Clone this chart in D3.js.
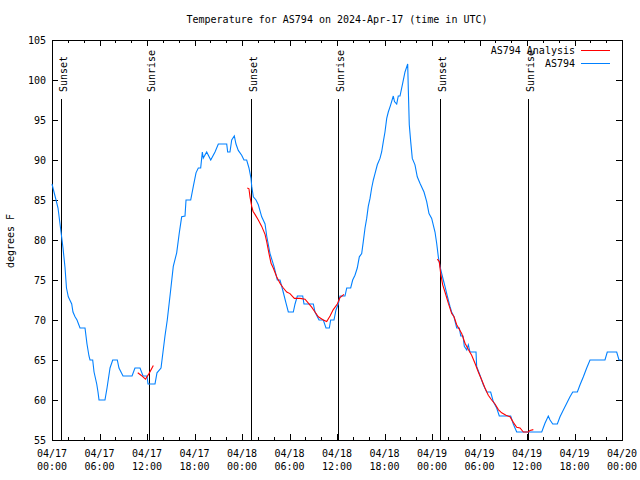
<!DOCTYPE html>
<html><head><meta charset="utf-8">
<script src="https://cdn.jsdelivr.net/npm/d3@7"></script>
<style>
html,body{margin:0;padding:0;background:#fff;}
text{font-family:"DejaVu Sans Mono","Liberation Mono",monospace;font-size:10px;fill:#000;}
</style></head>
<body>
<svg id="c" width="640" height="480"></svg>
<script>
// ---- data (hours since 2024-04-17 00:00 UTC, temperature in degrees F) ----
const titleText = "Temperature for AS794 on 2024-Apr-17 (time in UTC)";
const yLabel = "degrees F";
const yTicks = [55,60,65,70,75,80,85,90,95,100,105];
const seriesNames = ["AS794 Analysis","AS794"];

const obsHours = [0,0.25,0.51,0.76,1.14,1.39,1.64,1.83,2.06,2.49,2.65,2.91,3.16,3.54,4.17,4.42,4.67,4.80,5.14,5.31,5.65,5.81,5.94,6.69,6.95,7.33,7.67,8.25,8.46,8.97,10.11,10.48,11.12,11.50,12.00,12.13,13.01,13.26,13.77,14.02,14.27,14.56,14.99,15.32,15.75,16.08,16.38,16.80,16.93,17.52,17.85,18.19,18.48,18.78,18.99,19.11,19.54,20.05,20.59,21.01,22.07,22.19,22.48,22.70,23.03,23.24,23.53,23.96,24.25,24.59,24.88,25.14,25.23,25.43,25.77,26.06,26.49,26.91,27.12,27.54,28.04,28.46,28.80,29.14,29.56,29.85,30.48,30.70,30.99,31.67,31.83,33.01,33.22,33.73,34.27,34.61,35.03,35.20,35.62,35.87,36.16,36.38,37.01,37.23,37.73,37.98,38.27,38.56,38.82,39.12,39.32,39.54,39.75,39.95,40.17,40.38,40.59,40.80,41.09,41.43,41.64,41.85,42.06,42.28,42.48,42.78,43.11,43.26,43.54,43.74,43.96,44.30,44.59,44.93,45.01,45.13,45.31,45.51,45.85,46.14,46.48,46.99,47.33,47.62,47.96,48.38,48.59,48.80,49.01,49.23,49.43,49.64,49.93,50.27,50.48,50.78,51.12,51.45,51.63,51.92,52.08,52.39,52.59,52.80,53.56,53.64,54.06,54.48,54.91,55.41,55.74,56.17,56.50,57.94,58.27,58.70,61.86,62.27,62.69,62.91,63.25,63.83,64.17,64.59,65.02,65.43,65.78,66.36,66.70,67.12,67.54,67.96,69.85,70.14,71.33,71.62,71.87];
const obsTemps = [87,86,85,84,81,79,76.6,74,72.9,72,71,70.4,70,69,69,67,65.5,65,65,63.5,62,61,60,60,61.5,64,65,65,64,63,63,64,64,63,63,62,62,63.4,64,66,68,70,73.75,76.7,78.4,80.9,82.9,83,85,85,86.7,88.4,89,89,91,90.25,91,90,91,92,92,91,91,92.5,93,92,91.2,90.6,90,90,89,87.7,86.7,85.4,85,84.4,82.9,82,80.5,78.3,76.7,75,75,73.75,72.1,71,71,72,73,73,72,72,71,70,70,69,69,70,70,71.25,72,73,73,74,74,75,75.6,76.5,77.9,78.3,79.8,81.5,82.7,84.2,85.2,86.5,87.5,88.3,89.4,90.2,91,92.3,93.5,95.2,96,96.9,98,97.3,97,98,98,99.6,101,102,98.75,94.4,92.3,90.2,89.4,87.9,87.1,86,84.8,83.3,82.7,81,79.6,77.9,76.7,75.8,75,74.2,73,71.7,71,70.4,69,69,68,68,66.7,66.25,66.9,66,66,64.2,63.1,61.9,61,61,59.8,59,58,58,57,56,56,57.1,58,57.5,57,57,57.9,58.75,59.6,60.4,61,61,61.9,62.9,64,65,65,66,66,65,65];

// analysis segments
const anaHoursA = [10.83,11.24,11.81,12.00,12.25,12.80];
const anaTempsA = [63.4,63.1,62.6,62.9,63.3,64.3];
const anaHoursB = [24.67,24.88,25.01,25.23,25.39,25.64,26.06,26.49,26.91,27.12,27.41,27.67,27.95,28.38,28.80,29.22,29.65,30.06,30.61,31.33,31.96,32.38,32.80,33.22,33.64,34.27,34.70,35.12,35.53,36.04,36.38,36.88];
const anaTempsB = [86.5,86.4,85.4,84.2,83.6,83.2,82.5,81.7,80.7,79.8,78.3,77.1,76.5,75.4,74.6,74,73.5,73.3,72.7,72.7,72.6,72.1,71.6,71,70.4,70,69.8,70.5,71.3,72,72.8,73.2];
const anaHoursC = [48.67,48.92,49.10,49.35,49.64,50.06,50.49,50.78,51.12,51.75,52.17,52.59,53.01,53.43,53.85,54.28,54.69,55.11,55.54,55.96,56.38,56.80,57.35,57.85,58.27,58.70,59.12,59.54,59.97,60.17,60.38,60.80];
const anaTempsC = [77.6,77.3,75.8,74.4,73.5,72.1,70.8,70.4,69.4,68.3,67.1,66.3,65.6,64.6,63.5,62.5,61.5,60.6,60,59.5,58.8,58.4,58.1,57.9,57.2,56.6,56.5,56,56,56,56.2,56.3];

const sunLabels = ["Sunset","Sunrise","Sunset","Sunrise","Sunset","Sunrise"];
const sunHours = [1.17,12.29,25.17,36.16,49.05,60.16];

// ---- layout ----
const W=640,H=480;
const L=52,R=622,T=40,B=440;
const colAna="#ff0000", colObs="#0080ff";
const t0 = Date.UTC(2024,3,17,0,0);
const hr = h => new Date(t0 + h*3600000);

const svg = d3.select("#c");
const x = d3.scaleUtc().domain([hr(0),hr(72)]).range([L,R]);
const y = d3.scaleLinear().domain([55,105]).range([B,T]);

// title
svg.append("text").attr("x",337).attr("y",23).attr("text-anchor","middle").text(titleText);
// y label
svg.append("text").attr("transform","translate(14,241) rotate(-90)").attr("text-anchor","middle").text(yLabel);

const g = svg.append("g").attr("shape-rendering","crispEdges");

// ticks
const major = d3.utcHour.every(6).range(hr(0),hr(72.01));
const minor = d3.utcHour.every(2).range(hr(0),hr(72.01)).filter(d=>d.getUTCHours()%6!==0);
const px = v => Math.round(v)+0.5;
major.forEach(d=>{
  const xx=px(x(d));
  g.append("line").attr("x1",xx).attr("x2",xx).attr("y1",B).attr("y2",B-6).attr("stroke","#000");
  g.append("line").attr("x1",xx).attr("x2",xx).attr("y1",T).attr("y2",T+6).attr("stroke","#000");
  svg.append("text").attr("x",x(d)).attr("y",457).attr("text-anchor","middle").text(d3.utcFormat("%m/%d")(d));
  svg.append("text").attr("x",x(d)).attr("y",470).attr("text-anchor","middle").text(d3.utcFormat("%H:%M")(d));
});
minor.forEach(d=>{
  const xx=px(x(d));
  g.append("line").attr("x1",xx).attr("x2",xx).attr("y1",B).attr("y2",B-3).attr("stroke","#000");
  g.append("line").attr("x1",xx).attr("x2",xx).attr("y1",T).attr("y2",T+3).attr("stroke","#000");
});
yTicks.forEach(v=>{
  const yy=px(y(v));
  g.append("line").attr("x1",L).attr("x2",L+6).attr("y1",yy).attr("y2",yy).attr("stroke","#000");
  g.append("line").attr("x1",R).attr("x2",R-6).attr("y1",yy).attr("y2",yy).attr("stroke","#000");
  svg.append("text").attr("x",46).attr("y",y(v)+4).attr("text-anchor","end").text(v);
});

// sun lines
sunHours.forEach((h,i)=>{
  const xx=px(x(hr(h)));
  g.append("line").attr("x1",xx).attr("x2",xx).attr("y1",99).attr("y2",B).attr("stroke","#000");
  svg.append("text").attr("transform",`translate(${xx+5},92) rotate(-90)`).attr("text-anchor","start").text(sunLabels[i]);
});

// data lines
const line = d3.line().x(d=>x(hr(d[0]))).y(d=>y(d[1]));
const zip = (a,b)=>a.map((v,i)=>[v,b[i]]);
svg.append("path").datum(zip(obsHours,obsTemps)).attr("d",line).attr("fill","none").attr("stroke",colObs).attr("stroke-width",1.1);
[[anaHoursA,anaTempsA],[anaHoursB,anaTempsB],[anaHoursC,anaTempsC]].forEach(([h,t])=>{
  svg.append("path").datum(zip(h,t)).attr("d",line).attr("fill","none").attr("stroke",colAna).attr("stroke-width",1.1);
});

// border
g.append("rect").attr("x",L+0.5).attr("y",T+0.5).attr("width",R-L).attr("height",B-T).attr("fill","none").attr("stroke","#000");

// legend
const legCols=[colAna,colObs];
seriesNames.forEach((n,i)=>{
  const ly=50+i*12.5;
  svg.append("text").attr("x",575).attr("y",ly+4).attr("text-anchor","end").text(n);
  g.append("line").attr("x1",581).attr("x2",610).attr("y1",Math.round(ly)+0.5).attr("y2",Math.round(ly)+0.5).attr("stroke",legCols[i]);
});
</script>
</body></html>
